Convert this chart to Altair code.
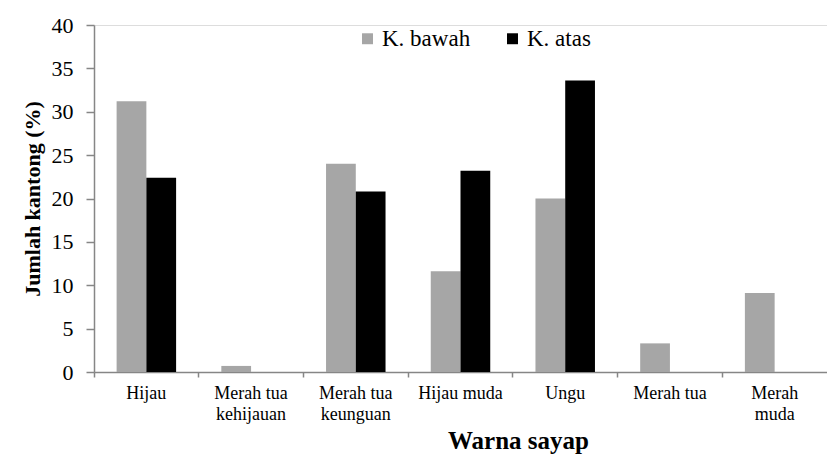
import altair as alt
import pandas as pd

categories = ["Hijau", "Merah tua|kehijauan", "Merah tua|keunguan", "Hijau muda",
              "Ungu", "Merah tua", "Merah|muda"]
series = ["K. bawah", "K. atas"]
k_bawah = [31.2, 0.7, 24.0, 11.6, 20.0, 3.3, 9.1]
k_atas = [22.4, 0.0, 20.8, 23.2, 33.6, 0.0, 0.0]
colors = ["#a6a6a6", "#000000"]

rows = []
for i, c in enumerate(categories):
    rows.append({"cat": c, "series": series[0], "val": k_bawah[i]})
    rows.append({"cat": c, "series": series[1], "val": k_atas[i]})
df = pd.DataFrame(rows)

FONT = "Liberation Serif"
AX = "#868686"

chart = alt.Chart(df).mark_bar().encode(
    x=alt.X("cat:N", sort=categories,
            scale=alt.Scale(paddingInner=0, paddingOuter=0),
            axis=alt.Axis(title="Warna sayap", labelAngle=0,
                          labelExpr="split(datum.label, '|')",
                          labelFont=FONT, labelFontSize=18, labelColor="#000",
                          labelLineHeight=21, labelPadding=7,
                          bandPosition=0, tickSize=5, tickColor=AX, tickWidth=1.5,
                          domainColor=AX, domainWidth=1.5,
                          titleFont=FONT, titleFontSize=25, titleFontWeight="bold",
                          titleColor="#000", titleX=424, titleY=76,
                          titleAlign="center", titleBaseline="alphabetic")),
    xOffset=alt.XOffset("series:N", sort=series,
                        scale=alt.Scale(paddingInner=0, paddingOuter=0.76)),
    y=alt.Y("val:Q", scale=alt.Scale(domain=[0, 40], nice=False),
            axis=alt.Axis(title="Jumlah kantong (%)", values=list(range(0, 41, 5)),
                          grid=False, labelFont=FONT, labelFontSize=22,
                          labelColor="#000", labelPadding=13,
                          tickSize=8, tickColor=AX, tickWidth=1.5,
                          domainColor=AX, domainWidth=1.5,
                          titleFont=FONT, titleFontSize=22, titleFontWeight="bold",
                          titleColor="#000", titlePadding=7)),
    color=alt.Color("series:N", sort=series,
                    scale=alt.Scale(domain=series, range=colors),
                    legend=alt.Legend(title=None, orient="none", direction="horizontal",
                                      legendX=262, legendY=2, symbolType="square",
                                      symbolSize=120, symbolStrokeWidth=0,
                                      labelFont=FONT, labelFontSize=23,
                                      labelColor="#000", columnPadding=30,
                                      symbolOffset=0, labelOffset=3, padding=0)),
).properties(
    width=733, height=347,
    autosize=alt.AutoSizeParams(type="none"),
    padding={"left": 94, "top": 25, "right": 0, "bottom": 83},
).configure_view(stroke=None).configure(background="white", font=FONT)

chart.save("out.html", embed_options={"renderer": "svg", "actions": False})
